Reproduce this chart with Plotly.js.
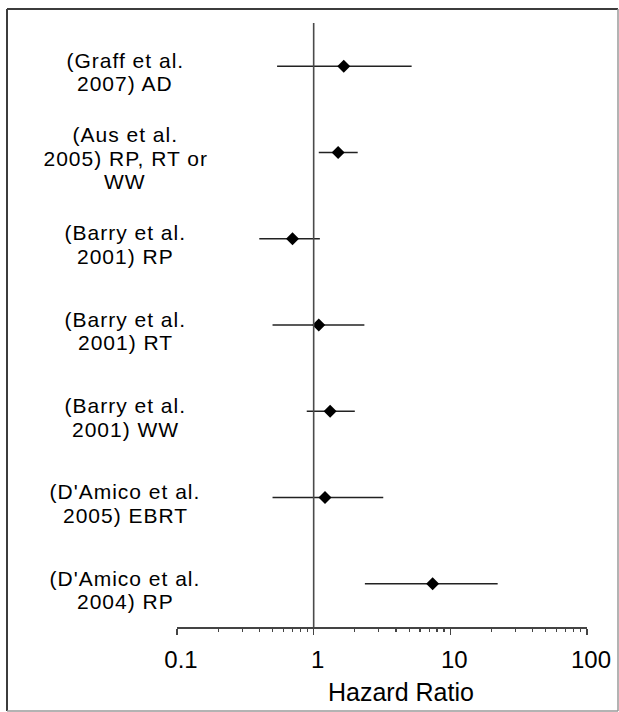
<!DOCTYPE html>
<html>
<head>
<meta charset="utf-8">
<script src="https://cdn.plot.ly/plotly-3.0.1.min.js"></script>
<style>
  html, body { margin: 0; padding: 0; background: #ffffff; }
  #chart { width: 619px; height: 712px; }
</style>
</head>
<body>
<div id="chart"></div>
<script>
// ---- data ----
const studies = [
  "(Graff et al.\n2007) AD",
  "(Aus et al.\n2005) RP, RT or\nWW",
  "(Barry et al.\n2001) RP",
  "(Barry et al.\n2001) RT",
  "(Barry et al.\n2001) WW",
  "(D'Amico et al.\n2005) EBRT",
  "(D'Amico et al.\n2004) RP"
];
const hazardRatio = [1.66, 1.51, 0.70, 1.09, 1.32, 1.21, 7.42];
const ciLower     = [0.54, 1.09, 0.40, 0.50, 0.89, 0.50, 2.37];
const ciUpper     = [5.21, 2.10, 1.11, 2.35, 2.00, 3.23, 22.2];
const tickValues  = [0.1, 1, 10, 100];
const tickLabels  = ["0.1", "1", "10", "100"];
const xTitle      = "Hazard Ratio";
const referenceHR = 1;

// ---- build ----
const FONT = "Liberation Sans, Arial, Helvetica, sans-serif";
const yIdx = studies.map((s, i) => i);

const trace = {
  type: "scatter",
  mode: "markers",
  x: hazardRatio,
  y: yIdx,
  marker: { symbol: "diamond", size: 10, color: "#000000" },
  error_x: {
    type: "data",
    symmetric: false,
    array: hazardRatio.map((v, i) => ciUpper[i] - v),
    arrayminus: hazardRatio.map((v, i) => v - ciLower[i]),
    width: 0,
    thickness: 1.5,
    color: "#222222"
  },
  hoverinfo: "skip",
  showlegend: false,
  cliponaxis: false
};

const annotations = [];
const LINE_GAP = 23.5;
studies.forEach((s, i) => {
  const lines = s.split("\n");
  const n = lines.length;
  lines.forEach((ln, j) => {
    annotations.push({
      xref: "paper", x: 0, xshift: -52,
      yref: "y", y: i,
      yshift: -(6 + (j - (n - 1) / 2) * LINE_GAP),
      text: ln,
      showarrow: false,
      xanchor: "center", yanchor: "middle",
      font: { family: FONT, size: 21, color: "#000000" }
    });
  });
});
annotations.push({
  xref: "paper", x: 0.5, xshift: 19,
  yref: "paper", y: 0, yshift: -65,
  text: xTitle, showarrow: false,
  xanchor: "center", yanchor: "middle",
  font: { family: FONT, size: 25, color: "#000000" }
});

// border of the figure (paper coords derived from pixel layout)
const L = 177, T = 23, W = 410, H = 604;
const px = p => (p - L) / W;
const py = p => (T + H - p) / H;
const shapes = [
  { type: "line", xref: "x", x0: referenceHR, x1: referenceHR, yref: "paper", y0: 0, y1: 1,
    line: { color: "#4a4a4a", width: 1.6 } },
  { type: "line", xref: "paper", yref: "paper", x0: px(7), x1: px(7), y0: py(9), y1: py(711),
    line: { color: "#3c3c3c", width: 2 } },
  { type: "line", xref: "paper", yref: "paper", x0: px(7), x1: px(618), y0: py(9), y1: py(9),
    line: { color: "#3c3c3c", width: 2 } },
  { type: "line", xref: "paper", yref: "paper", x0: px(618), x1: px(618), y0: py(9), y1: py(711),
    line: { color: "#9a9a9a", width: 1.5 } },
  { type: "line", xref: "paper", yref: "paper", x0: px(7), x1: px(618), y0: py(711), y1: py(711),
    line: { color: "#9a9a9a", width: 1.5 } }
];

const layout = {
  width: 619, height: 712,
  margin: { l: L, r: 619 - L - W, t: T, b: 712 - T - H, pad: 0 },
  paper_bgcolor: "#ffffff",
  plot_bgcolor: "#ffffff",
  font: { family: FONT, color: "#000000" },
  xaxis: {
    type: "log",
    range: [-1, 2],
    tickmode: "array",
    tickvals: tickValues,
    ticktext: tickLabels,
    ticks: "outside",
    ticklen: 6,
    tickwidth: 1.3,
    tickcolor: "#444444",
    showline: true,
    linecolor: "#444444",
    linewidth: 1.5,
    showgrid: false,
    zeroline: false,
    ticklabelstandoff: 5,
    ticklabelshift: 4,
    tickfont: { family: FONT, size: 24, color: "#000000" },
    minor: { dtick: "D1", ticks: "outside", ticklen: 3, tickwidth: 1.2, tickcolor: "#444444", showgrid: false },
    fixedrange: true
  },
  yaxis: {
    range: [6.5, -0.5],
    showticklabels: false,
    showgrid: false,
    zeroline: false,
    showline: false,
    ticks: "",
    fixedrange: true
  },
  annotations: annotations,
  shapes: shapes,
  showlegend: false
};

Plotly.newPlot("chart", [trace], layout, { staticPlot: true, displayModeBar: false }).then(gd => {
  // the reference's label glyphs are wider than Arial's: add a little tracking
  const nLabels = annotations.length - 1;
  gd.querySelectorAll("g.annotation").forEach((g, k) => {
    if (k >= nLabels) return;
    const t = g.querySelector("text.annotation-text");
    if (t) t.style.letterSpacing = "1px";
  });
});
</script>
</body>
</html>
